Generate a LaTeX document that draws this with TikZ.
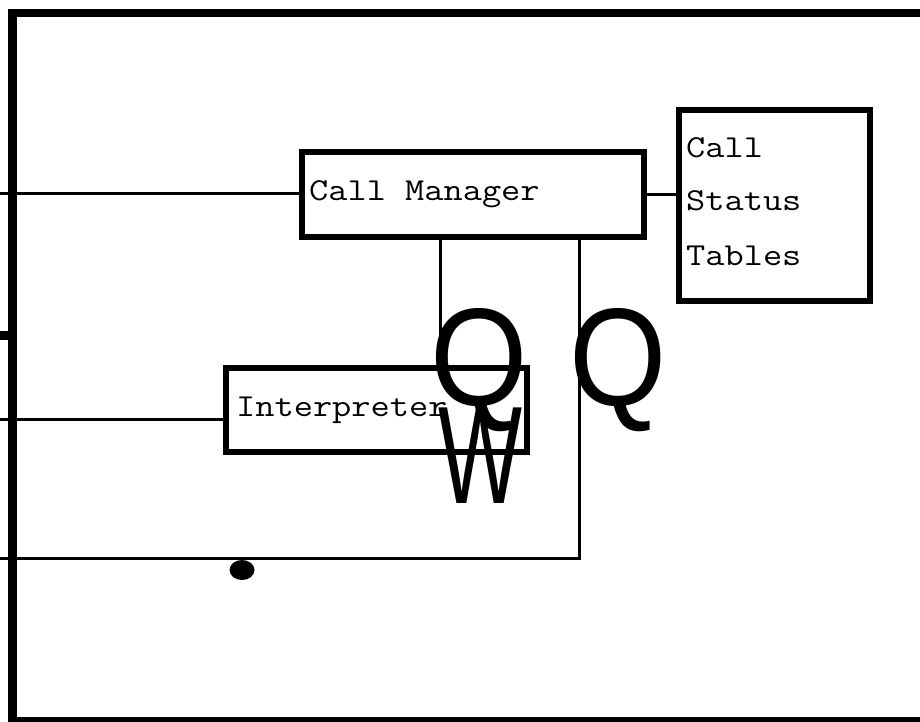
\documentclass[tikz,border=0pt]{standalone}
\usepackage{fontspec}
\newfontfamily\bigsans{Liberation Sans}
\begin{document}
\begin{tikzpicture}[x=1pt,y=-1pt,
  frame/.style={line width=8.5pt},
  box/.style={draw,line width=6pt,rectangle,inner sep=0pt,outer sep=0pt,anchor=north west},
  wire/.style={line width=3pt},
  lbl/.style={inner sep=0pt,anchor=base west,xscale=1.165,font=\ttfamily\fontsize{32}{32}\selectfont},
  glyph/.style={inner sep=0pt,anchor=base,font=\bigsans\fontsize{139}{139}\selectfont}]
\useasboundingbox (0,0) rectangle (920,721);
% outer frame
\draw[frame] (925,13) -- (12.5,13) -- (12.5,721.5) -- (925,721.5);
\draw[line width=9pt] (0,335.5) -- (12.5,335.5);
% boxes
\node[box,minimum width=342.5pt,minimum height=85pt] (cm) at (301.5,152) {};
\node[lbl] (cmt) at (309,200) {Call Manager};
\node[box,minimum width=191.5pt,minimum height=191pt] (cst) at (678.5,109.5) {};
\node[lbl] (cst1) at (686,157) {Call};
\node[lbl] (cst2) at (686,210) {Status};
\node[lbl] (cst3) at (686,265) {Tables};
\node[box,minimum width=300.5pt,minimum height=84pt] (ip) at (226,368) {};
\node[lbl] (ipt) at (236,416) {Interpreter};
% connectors
\coordinate (l1) at (0,193);
\coordinate (l2) at (0,419);
\coordinate (l3) at (0,558);
\coordinate (a1) at (440,237);
\coordinate (b1) at (579,237);
\draw[wire] (l1) -- (l1 -| cm.west);
\draw[wire] (cm.east) -- (cm.east -| cst.west);
\draw[wire] (l2) -- (l2 -| ip.west);
\draw[wire] (a1) -- (a1 |- ip.north);
\draw[wire] (l3) -- (l3 -| b1) -- (b1);
% large glyphs
\node[glyph,xscale=0.9] (q1) at (479,405) {Q};
\node[glyph,xscale=0.9] (q2) at (618.5,405) {Q};
\node[glyph,xscale=0.64] (w1) at (480,503) {W};
% dot
\fill (242,570) ellipse (12.5 and 10);
\end{tikzpicture}
\end{document}
